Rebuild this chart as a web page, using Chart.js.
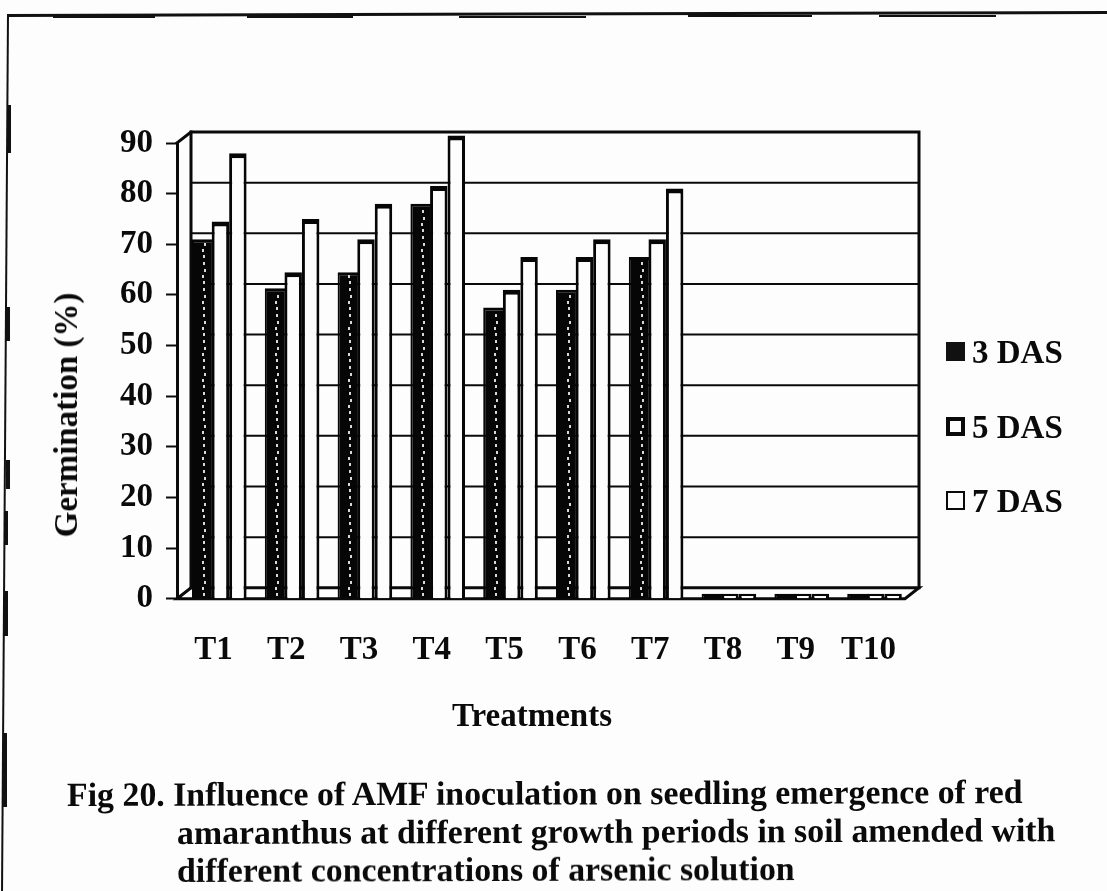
<!DOCTYPE html>
<html><head><meta charset="utf-8">
<script src="https://cdn.jsdelivr.net/npm/chart.js@4"></script>
<style>
html,body{margin:0;padding:0;background:#fdfdfd;}
#wrap{position:relative;width:1107px;height:891px;overflow:hidden;font-family:"Liberation Serif",serif;font-weight:bold;color:#0a0a0a;}
canvas{position:absolute;left:0;top:0;}
.cap{position:absolute;font-size:33.85px;white-space:nowrap;line-height:38px;transform:rotate(-.18deg);transform-origin:0 50%;}
.edge{position:absolute;background:#111;}
.leg{position:absolute;left:946px;font-size:33px;line-height:38px;white-space:nowrap;}
.leg i{position:absolute;left:0;top:9px;width:19px;height:19px;box-sizing:border-box;border:2px solid #0a0a0a;background:#fdfdfd;}
.leg span{position:absolute;left:26px;top:0;}
.axt{position:absolute;font-size:33px;line-height:38px;white-space:nowrap;transform:translate(-50%,-50%);}
</style></head><body>
<div id="wrap">
<canvas id="c" width="1107" height="891"></canvas>
<div class="edge" style="left:7px;top:14px;width:1100px;height:3px;transform:rotate(-.16deg);transform-origin:0 0"></div>
<div class="edge" style="left:53px;top:16px;width:102px;height:2px"></div>
<div class="edge" style="left:247px;top:16px;width:106px;height:2px"></div>
<div class="edge" style="left:459px;top:16px;width:127px;height:2px"></div>
<div class="edge" style="left:688px;top:15px;width:124px;height:2px"></div>
<div class="edge" style="left:879px;top:15px;width:117px;height:2px"></div>
<div class="edge" style="left:7px;top:14px;width:2px;height:880px;transform:rotate(.39deg);transform-origin:0 0"></div>
<div class="edge" style="left:8px;top:105px;width:3px;height:48px"></div>
<div class="edge" style="left:6px;top:307px;width:4px;height:34px"></div>
<div class="edge" style="left:6px;top:460px;width:4px;height:29px"></div>
<div class="edge" style="left:5px;top:511px;width:3px;height:34px"></div>
<div class="edge" style="left:4px;top:591px;width:4px;height:45px"></div>
<div class="edge" style="left:3px;top:733px;width:4px;height:74px"></div>
<div class="axt" style="left:532px;top:715px" id="xTitle"></div>
<div class="axt" style="left:66px;top:415px;transform:translate(-50%,-50%) rotate(-90deg)" id="yTitle"></div>
<div class="cap" style="left:67px;top:776px">Fig 20. Influence of AMF inoculation on seedling emergence of red</div>
<div class="cap" style="left:177px;top:814px">amaranthus at different growth periods in soil amended with</div>
<div class="cap" style="left:177px;top:852px">different concentrations of arsenic solution</div>
<div id="legend"></div>
</div>
<script>
const categories=["T1","T2","T3","T4","T5","T6","T7","T8","T9","T10"];
const das3=[71,61.3,64.5,78,57.5,61,67.5,0,0,0];
const das5=[74.5,64.5,71,81.5,61,67.5,71,0,0,0];
const das7=[88,75,78,91.5,67.5,71,81,0,0,0];
const seriesNames=["3 DAS","5 DAS","7 DAS"];
const yTicks=[0,10,20,30,40,50,60,70,80,90];
const xAxisTitle="Treatments";
const yAxisTitle="Germination (%)";
document.getElementById('xTitle').textContent=xAxisTitle;
document.getElementById('yTitle').textContent=yAxisTitle;

// speckled dark fill: one broken pale streak down the middle of each dark bar
const tile=document.createElement('canvas');tile.width=73;tile.height=26;
const tc=tile.getContext('2d');tc.fillStyle='#060606';tc.fillRect(0,0,73,26);
tc.fillStyle='#d8d8d8';[[50,2],[51,9],[49,15],[50,21]].forEach(p=>tc.fillRect(p[0],p[1],2,3));
const speckle=tc.createPattern(tile,'repeat');

const DX=14,DY=-11,BARSHIFT=7;
const depth={
 id:'depth',
 beforeDatasetsDraw(ch){
  const {ctx,chartArea:a,scales:{y}}=ch;
  ctx.save();ctx.strokeStyle='#0a0a0a';ctx.lineCap='square';
  const y0=y.getPixelForValue(0),yT=y.getPixelForValue(yTicks[yTicks.length-1]);
  ctx.lineWidth=2;
  yTicks.slice(1).forEach(v=>{const p=y.getPixelForValue(v)+DY;
    ctx.beginPath();ctx.moveTo(a.left+DX,p);ctx.lineTo(a.right+DX,p);ctx.stroke();});
  ctx.lineWidth=3;
  ctx.beginPath();ctx.moveTo(a.left,y0);ctx.lineTo(a.right,y0);ctx.lineTo(a.right+DX,y0+DY);
  ctx.lineTo(a.left+DX,y0+DY);ctx.closePath();ctx.stroke();
  ctx.beginPath();ctx.moveTo(a.left,yT);ctx.lineTo(a.left+DX,yT+DY);ctx.lineTo(a.right+DX,yT+DY);
  ctx.lineTo(a.right+DX,y0+DY);ctx.stroke();
  ctx.beginPath();ctx.moveTo(a.left+DX,yT+DY);ctx.lineTo(a.left+DX,y0+DY);ctx.stroke();
  ctx.restore();
  ctx.save();ctx.translate(BARSHIFT,0);
 },
 afterDatasetsDraw(ch){ch.ctx.restore();}
};

const FONT={family:'Liberation Serif',size:33,weight:'bold'};
const common={categoryPercentage:0.72,borderColor:'#060606',borderSkipped:false,minBarLength:5,clip:false};
new Chart(document.getElementById('c'),{
 type:'bar',
 data:{labels:categories,datasets:[
  {...common,label:seriesNames[0],data:das3,backgroundColor:speckle,barPercentage:1.25,borderWidth:{top:3,left:2,right:2,bottom:0}},
  {...common,label:seriesNames[1],data:das5,backgroundColor:'#fdfdfd',barPercentage:1,borderWidth:{top:5,left:3,right:3,bottom:0}},
  {...common,label:seriesNames[2],data:das7,backgroundColor:'#fdfdfd',barPercentage:1,borderWidth:{top:5,left:3,right:3,bottom:0}}
 ]},
 options:{
  responsive:false,animation:false,
  layout:{padding:{left:107,top:143,right:202,bottom:188.6}},
  plugins:{tooltip:{enabled:false},legend:{display:false}},
  scales:{
   x:{grid:{display:false,drawTicks:false},border:{display:false},
      ticks:{color:'#0a0a0a',padding:32,maxRotation:0,autoSkip:false,font:FONT}},
   y:{min:0,max:90,grid:{display:true,drawTicks:true,tickLength:11,tickColor:'#0a0a0a',tickWidth:2,drawOnChartArea:false},
      border:{display:true,color:'#0a0a0a',width:3},
      afterBuildTicks(s){s.ticks=yTicks.map(v=>({value:v}));},
      ticks:{color:'#0a0a0a',padding:13,font:FONT}}
  }
 },
 plugins:[depth]
});
// legend
const legendTops=[333,408,482];
const swatches=['background:#111;border-color:#111','border-width:4px','border-width:2px'];
document.getElementById('legend').innerHTML=seriesNames.map((n,i)=>
 `<div class="leg" style="top:${legendTops[i]}px"><i style="${swatches[i]}"></i><span>${n}</span></div>`).join('');
</script>
</body></html>
